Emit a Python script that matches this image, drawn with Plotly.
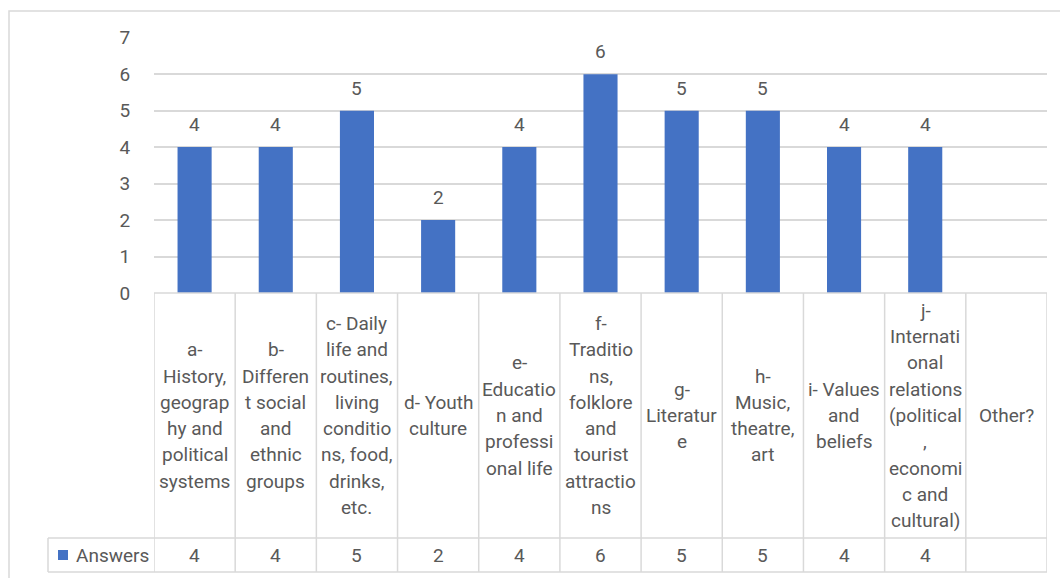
import plotly.graph_objects as go

# Survey topics (wrapped as they appear in the data table header)
category_lines = [
    ["a-", "History,", "geograp", "hy and", "political", "systems"],
    ["b-", "Differen", "t social", "and", "ethnic", "groups"],
    ["c- Daily", "life and", "routines,", "living", "conditio", "ns, food,", "drinks,", "etc."],
    ["d- Youth", "culture"],
    ["e-", "Educatio", "n and", "professi", "onal life"],
    ["f-", "Traditio", "ns,", "folklore", "and", "tourist", "attractio", "ns"],
    ["g-", "Literatur", "e"],
    ["h-", "Music,", "theatre,", "art"],
    ["i- Values", "and", "beliefs"],
    ["j-", "Internati", "onal", "relations", "(political", ",", "economi", "c and", "cultural)"],
    ["Other?"],
]
categories = [" ".join(lines) for lines in category_lines]
answers = [4, 4, 5, 2, 4, 6, 5, 5, 4, 4, None]
series_name = "Answers"
y_ticks = [0, 1, 2, 3, 4, 5, 6, 7]

W, H = 1060, 578
BLUE = "#4472C4"
TEXT = "#595959"
LINE = "#d9d9d9"
FONT = "Roboto"
FS = 19

# pixel layout of the chart frame
plot_left, plot_right = 154, 1047
plot_top, plot_bottom = 37.7, 293
header_bottom, table_bottom = 538, 572
legend_left = 48


def py(y):
    """pixel row -> paper y"""
    return 1 - y / H


def px(x):
    return x / W


x_idx = list(range(len(categories)))

fig = go.Figure()
fig.add_trace(go.Bar(
    x=x_idx, y=answers, name=series_name,
    marker=dict(color=BLUE, line=dict(width=0)),
    width=0.42, hoverinfo="skip", showlegend=False,
))

shapes = []
annotations = []

# outer chart border
shapes.append(dict(type="rect", xref="paper", yref="paper",
                   x0=px(9), x1=px(1075), y0=py(11), y1=py(600),
                   line=dict(color=LINE, width=1.5), layer="below"))

# data labels above bars
for i, v in zip(x_idx, answers):
    if v is None:
        continue
    annotations.append(dict(x=i, y=v, xref="x", yref="y", text=str(v),
                            showarrow=False, yanchor="bottom", yshift=9,
                            font=dict(family=FONT, size=FS, color=TEXT)))

# data table: vertical separators on category boundaries
n = len(categories)
for b in range(n + 1):
    shapes.append(dict(type="line", xref="x", yref="paper",
                       x0=b - 0.5, x1=b - 0.5, y0=py(plot_bottom), y1=py(table_bottom),
                       line=dict(color=LINE, width=1.5)))
# horizontal rules of the table
for yy in (plot_bottom, header_bottom, table_bottom):
    shapes.append(dict(type="line", xref="x", yref="paper",
                       x0=-0.5, x1=n - 0.5, y0=py(yy), y1=py(yy),
                       line=dict(color=LINE, width=1.5)))
# legend cell of the value row
for yy in (header_bottom, table_bottom):
    shapes.append(dict(type="line", xref="paper", yref="paper",
                       x0=px(legend_left), x1=px(plot_left), y0=py(yy), y1=py(yy),
                       line=dict(color=LINE, width=1.5)))
shapes.append(dict(type="line", xref="paper", yref="paper",
                   x0=px(legend_left), x1=px(legend_left),
                   y0=py(header_bottom), y1=py(table_bottom),
                   line=dict(color=LINE, width=1.5)))
# legend key
shapes.append(dict(type="rect", xref="paper", yref="paper",
                   x0=px(58), x1=px(68), y0=py(550), y1=py(560),
                   line=dict(width=0), fillcolor=BLUE))
annotations.append(dict(x=px(74), y=py(555.5), xref="paper", yref="paper",
                        text=series_name, showarrow=False, xanchor="left",
                        yanchor="middle",
                        font=dict(family=FONT, size=FS, color=TEXT)))

# header cells: category names, centred vertically in the header row
header_mid = (plot_bottom + header_bottom) / 2
line_gap = 26.3
for i, lines in zip(x_idx, category_lines):
    k = len(lines)
    for j, txt in enumerate(lines):
        yy = header_mid + (j - (k - 1) / 2) * line_gap
        annotations.append(dict(x=i, y=py(yy), xref="x", yref="paper",
                                text=txt, showarrow=False, yanchor="middle",
                                font=dict(family=FONT, size=FS, color=TEXT)))

# value row
row_mid = (header_bottom + table_bottom) / 2
for i, v in zip(x_idx, answers):
    if v is None:
        continue
    annotations.append(dict(x=i, y=py(row_mid), xref="x", yref="paper",
                            text=str(v), showarrow=False, yanchor="middle",
                            font=dict(family=FONT, size=FS, color=TEXT)))

fig.update_layout(
    width=W, height=H,
    margin=dict(l=0, r=0, t=0, b=0, autoexpand=False),
    paper_bgcolor="white", plot_bgcolor="white",
    shapes=shapes, annotations=annotations,
    bargap=0.5,
    xaxis=dict(domain=[px(plot_left), px(plot_right)], range=[-0.5, n - 0.5],
               showticklabels=False, showgrid=False, zeroline=False,
               showline=False, ticks="", fixedrange=True, automargin=False),
    yaxis=dict(domain=[py(plot_bottom), py(plot_top)], range=[0, 7],
               tickvals=y_ticks, showgrid=True, gridcolor=LINE, gridwidth=1.5,
               zeroline=False, showline=False,
               ticks="outside", ticklen=19, tickcolor="rgba(0,0,0,0)",
               tickfont=dict(family=FONT, size=FS, color=TEXT), fixedrange=True,
               automargin=False),
)

fig.write_html("out.html")
